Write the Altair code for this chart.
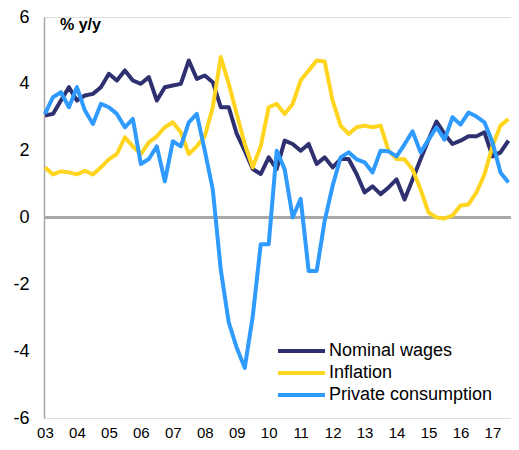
import altair as alt
import pandas as pd

# quarterly observations, 2003Q1 .. 2017Q3
quarters = [2003 + i / 4 for i in range(59)]

wages = [3.05, 3.1, 3.5, 3.9, 3.5, 3.65, 3.7, 3.9, 4.3, 4.1,
         4.4, 4.1, 4.0, 4.2, 3.5, 3.9, 3.95, 4.0, 4.7, 4.15,
         4.25, 4.05, 3.3, 3.3, 2.5, 2.0, 1.45, 1.3, 1.8, 1.45,
         2.3, 2.2, 2.0, 2.2, 1.6, 1.8, 1.5, 1.75, 1.75, 1.3,
         0.75, 0.93, 0.7, 0.9, 1.14, 0.54, 1.14, 1.74, 2.33, 2.87,
         2.5, 2.2, 2.3, 2.43, 2.43, 2.55, 1.83, 1.95, 2.3]

inflation = [1.5, 1.29, 1.38, 1.35, 1.29, 1.4, 1.29, 1.5, 1.74, 1.9,
             2.4, 2.13, 1.9, 2.25, 2.43, 2.7, 2.85, 2.55, 1.9, 2.13,
             2.43, 3.3, 4.8, 4.0, 3.1, 2.2, 1.5, 2.13, 3.3, 3.4,
             3.1, 3.4, 4.1, 4.4, 4.7, 4.67, 3.5, 2.75, 2.5, 2.7,
             2.75, 2.7, 2.75, 2.0, 1.75, 1.74, 1.44, 0.84, 0.15, 0.0,
             -0.03, 0.06, 0.36, 0.39, 0.75, 1.29, 2.13, 2.75, 2.95]

consumption = [3.1, 3.6, 3.75, 3.3, 3.9, 3.2, 2.8, 3.4, 3.3, 3.1,
               2.7, 2.95, 1.6, 1.75, 2.13, 1.08, 2.28, 2.13, 2.85, 3.1,
               2.0, 0.84, -1.56, -3.14, -3.9, -4.5, -2.96, -0.8, -0.8, 2.0,
               1.44, 0.0, 0.56, -1.6, -1.6, -0.1, 0.95, 1.8, 1.95, 1.74,
               1.65, 1.35, 2.0, 1.98, 1.83, 2.19, 2.58, 1.95, 2.33, 2.7,
               2.33, 3.0, 2.78, 3.14, 3.02, 2.85, 2.25, 1.35, 1.05]

series_names = ["Nominal wages", "Inflation", "Private consumption"]
series_colors = ["#2e3070", "#ffd520", "#2f9bff"]
year_ticks = list(range(2003, 2018))
y_ticks = [-6, -4, -2, 0, 2, 4, 6]
unit_label = "% y/y"

FONT = "Liberation Sans"
GREY = "#a6a6a6"

df = pd.DataFrame({
    "t": quarters * 3,
    "value": wages + inflation + consumption,
    "series": [s for s in series_names for _ in quarters],
})

x_enc = alt.X(
    "t:Q",
    scale=alt.Scale(domain=[2002.97, 2017.58], nice=False, zero=False),
    axis=alt.Axis(values=year_ticks, format="d", labelExpr="substring(datum.label, 2)",
                  ticks=False, domain=False, grid=False, labelPadding=7,
                  labelFontSize=15, labelFont=FONT, labelColor="black",
                  labelFlush=False, labelOverlap=False, title=None),
)
y_enc = alt.Y(
    "value:Q",
    scale=alt.Scale(domain=[-6, 6], nice=False),
    axis=alt.Axis(values=y_ticks, labelExpr="toString(datum.value)",
                  ticks=False, grid=False, domain=True,
                  domainColor=GREY, domainWidth=1.5, labelPadding=15,
                  labelFontSize=18, labelFont=FONT, labelColor="black", title=None),
)
color_enc = alt.Color("series:N", scale=alt.Scale(domain=series_names, range=series_colors),
                      legend=None)

base = alt.Chart(df)

zero_line = base.mark_rule(color=GREY, strokeWidth=1.5).encode(y=alt.datum(0))

lines = [
    base.transform_filter(alt.datum.series == name)
    .mark_line(strokeWidth=4, strokeJoin="round")
    .encode(x=x_enc, y=y_enc, color=color_enc)
    for name in series_names
]

unit_text = alt.Chart(pd.DataFrame({"label": [unit_label]})).mark_text(
    align="left", baseline="middle", fontSize=16, fontWeight="bold", font=FONT, color="black"
).encode(x=alt.value(16), y=alt.value(8), text="label:N")

legend_layers = []
for k, (name, col) in enumerate(zip(series_names, series_colors)):
    ldf = pd.DataFrame({"series": [name]})
    ypos = 334 + 22 * k
    legend_layers.append(
        alt.Chart(ldf).mark_rule(color=col, strokeWidth=4).encode(
            x=alt.value(234), x2=alt.value(281), y=alt.value(ypos))
    )
    legend_layers.append(
        alt.Chart(ldf).mark_text(align="left", baseline="middle", fontSize=18,
                                 font=FONT, color="black").encode(
            x=alt.value(285), y=alt.value(ypos), text="series:N")
    )

chart = alt.layer(zero_line, *lines, unit_text, *legend_layers).properties(
    width=467, height=401,
    autosize=alt.AutoSizeParams(type="none"),
    padding={"left": 36, "top": 9, "right": 0, "bottom": 24},
).configure_view(stroke=None).configure(background="white")

chart.save("out.html", embed_options={"renderer": "svg", "actions": False})
